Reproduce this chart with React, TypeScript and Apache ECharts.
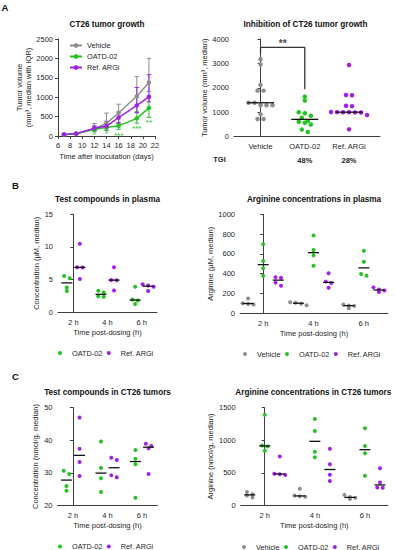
import React, { useEffect, useRef } from 'react';
import * as echarts from 'echarts';

const FONT = '"Liberation Sans", Arial, Helvetica, sans-serif';
const GRAY = '#8e8e8e';
const GREEN = '#22c322';
const PURPLE = '#a21fe5';
const AXIS = '#3c3c3c';
const TEXT = '#1e1e1e';

// ---------- Panel A (left): CT26 tumor growth, median with IQR ----------
const days = [7, 9, 12, 14, 16, 19, 21];
const vehicleMedian = [40, 65, 190, 330, 600, 1025, 1380];
const vehicleQ1 = [25, 45, 130, 220, 350, 620, 1150];
const vehicleQ3 = [55, 85, 320, 590, 820, 1530, 2000];
const oatdMedian = [35, 55, 170, 225, 260, 455, 725];
const oatdQ1 = [25, 40, 110, 140, 170, 330, 480];
const oatdQ3 = [45, 70, 240, 330, 330, 620, 1010];
const refMedian = [40, 60, 200, 255, 475, 790, 1010];
const refQ1 = [30, 45, 140, 180, 330, 600, 880];
const refQ3 = [55, 75, 260, 380, 620, 1250, 1580];
const oatdStars = ['', '', '*', '*', '***', '***', '**'];
const oatdStarLevel = [0, 0, 40, 60, 20, 200, 340];

// ---------- Panel A (right): final tumor volume ----------
const groupNames = ['Vehicle', 'OATD-02', 'Ref. ARGi'];
const finalVehicle = [3170, 2960, 2115, 1885, 1885, 1390, 1390, 1285, 1285, 1285, 915, 725, 725];
const finalOatd = [1640, 1480, 1000, 960, 860, 780, 640, 610, 570, 500, 290, 190];
const finalRef = [2935, 1710, 1695, 1270, 1250, 1010, 1005, 1000, 1000, 995, 990, 890, 300];
const tgiLabels = ['', '48%', '28%'];
const sigBracket = { from: 0, to: 1, top: 3660, fromEnd: 3410, toEnd: 1940, label: '**', labelLevel: 3800 };

// ---------- Panel B ----------
const timeLabels = ['2 h', '4 h', '6 h'];
const plasmaCmpdOatd = [[5.55, 5.2, 3.8, 3.25], [3.3, 3.05, 2.45, 2.38], [3.9, 1.95, 1.8, 1.27]];
const plasmaCmpdRef = [[10.5, 6.9, 6.85, 5.1], [6.9, 4.95, 4.9, 3.35], [4.3, 4.1, 3.9, 3.25]];
const plasmaArgVehicle = [[150, 102, 95, 88], [112, 106, 97, 82], [88, 78, 75, 52]];
const plasmaArgOatd = [[697, 528, 455, 380], [785, 640, 585, 480], [632, 521, 397, 380]];
const plasmaArgRef = [[365, 360, 310, 278], [405, 320, 305, 258], [262, 240, 230, 215]];

// ---------- Panel C ----------
const tumorCmpdOatd = [[30.6, 29.6, 25.9, 24.5], [39.6, 31.5, 28.3, 24.1], [37.0, 34.3, 32.6, 22.3]];
const tumorCmpdRef = [[47.0, 37.4, 33.3, 29.0], [34.6, 33.9, 29.2, 28.6], [38.9, 38.2, 37.5, 29.6]];
const tumorArgVehicle = [[205, 170, 150, 120], [255, 150, 138, 130], [160, 128, 115, 95]];
const tumorArgOatd = [[1390, 920, 905, 840], [1326, 1142, 824, 737], [1183, 911, 799, 455]];
const tumorArgRef = [[750, 485, 478, 465], [870, 630, 470, 375], [568, 350, 275, 270]];

// ---------- layout ----------
type Box = { left: number; top: number; width: number; height: number };
const gAL: Box = { left: 58, top: 39, width: 97, height: 97 };
const gAR: Box = { left: 234, top: 39, width: 146, height: 97.7 };
const gBL: Box = { left: 58, top: 214.3, width: 99, height: 98 };
const gBR: Box = { left: 240, top: 214.3, width: 148, height: 99 };
const gCL: Box = { left: 57.5, top: 407.7, width: 100, height: 97.6 };
const gCR: Box = { left: 240.7, top: 407.7, width: 147.3, height: 97.6 };

const xrAR = [-0.6, 2.7];
const xrBL = [-0.45, 2.45];
const xrBR = [-0.46, 2.48];
const xrCL = [-0.45, 2.45];
const xrCR = [-0.48, 2.46];
const yrAR = [0, 4000];
const yrBL = [0, 15];
const yrBR = [0, 1000];
const yrCL = [20, 50];
const yrCR = [0, 1500];

function median(v: number[]) {
  const s = [...v].sort((a, b) => a - b);
  const n = s.length;
  return n % 2 ? s[(n - 1) / 2] : (s[n / 2 - 1] + s[n / 2]) / 2;
}

function swarm(values: number[], center: number, g: Box, xr: number[], yr: number[], spacingPx: number, rowPx = 3.5) {
  const yPx = g.height / (yr[1] - yr[0]);
  const xUnit = (xr[1] - xr[0]) / g.width;
  const sorted = [...values].sort((a, b) => b - a);
  const rows: number[][] = [];
  let cur: number[] = [];
  for (const v of sorted) {
    if (cur.length && (cur[0] - v) * yPx > rowPx) {
      rows.push(cur);
      cur = [];
    }
    cur.push(v);
  }
  if (cur.length) rows.push(cur);
  const out: number[][] = [];
  rows.forEach((r) => r.forEach((v, i) => out.push([center + (i - (r.length - 1) / 2) * spacingPx * xUnit, v])));
  return out;
}

function dotSeries(name: string, color: string, idx: number, groups: number[][], offset: number, g: Box, xr: number[], yr: number[], size: number, spacing: number) {
  const data = groups.flatMap((vals, t) => swarm(vals, t + offset, g, xr, yr, spacing));
  return { type: 'scatter', name, xAxisIndex: idx, yAxisIndex: idx, data, symbolSize: size, itemStyle: { color, opacity: 1 }, z: 3, silent: true };
}

function medianSeries(idx: number, groups: number[][], offset: number, halfPx: number) {
  return {
    type: 'custom',
    name: '_median',
    xAxisIndex: idx,
    yAxisIndex: idx,
    z: 4,
    silent: true,
    data: groups.map((vals, t) => [t + offset, median(vals)]),
    encode: { x: 0, y: 1 },
    renderItem: (_p: any, api: any) => {
      const c = api.coord([api.value(0), api.value(1)]);
      return {
        type: 'line',
        shape: { x1: c[0] - halfPx, y1: c[1], x2: c[0] + halfPx, y2: c[1] },
        style: { stroke: '#111', lineWidth: 1.3 },
      };
    },
  };
}

function errorBars(color: string, lo: number[], hi: number[]) {
  return {
    type: 'custom',
    name: '_err',
    xAxisIndex: 0,
    yAxisIndex: 0,
    z: 2,
    silent: true,
    data: days.map((d, i) => [d, lo[i], hi[i]]),
    encode: { x: 0, y: [1, 2] },
    renderItem: (_p: any, api: any) => {
      const a = api.coord([api.value(0), api.value(1)]);
      const b = api.coord([api.value(0), api.value(2)]);
      const st = { stroke: color, lineWidth: 1 };
      return {
        type: 'group',
        children: [
          { type: 'line', shape: { x1: a[0], y1: a[1], x2: b[0], y2: b[1] }, style: st },
          { type: 'line', shape: { x1: a[0] - 2.2, y1: a[1], x2: a[0] + 2.2, y2: a[1] }, style: st },
          { type: 'line', shape: { x1: b[0] - 2.2, y1: b[1], x2: b[0] + 2.2, y2: b[1] }, style: st },
        ],
      };
    },
  };
}

const txt = { fontSize: 7.5, color: TEXT, fontFamily: FONT };

function yAx(idx: number, yr: number[], interval: number, name: string, nameGap: number) {
  return {
    type: 'value',
    gridIndex: idx,
    min: yr[0],
    max: yr[1],
    interval,
    name,
    nameLocation: 'middle',
    nameGap,
    nameTextStyle: { ...txt, lineHeight: 8.6 },
    axisLine: { show: true, lineStyle: { color: AXIS, width: 1 } },
    axisTick: { show: true, length: 3, lineStyle: { color: AXIS } },
    axisLabel: { ...txt, margin: 5, formatter: (v: number) => String(v) },
    splitLine: { show: false },
  };
}

function catXAx(idx: number, xr: number[], labels: string[], name: string) {
  return {
    type: 'value',
    gridIndex: idx,
    min: xr[0],
    max: xr[1],
    name,
    nameLocation: 'middle',
    nameGap: 16.5,
    nameTextStyle: txt,
    axisLine: { show: true, lineStyle: { color: AXIS, width: 1 } },
    axisTick: { show: false },
    axisLabel: { ...txt, margin: 6, customValues: [0, 1, 2], formatter: (v: number) => labels[Math.round(v)] ?? '' },
    splitLine: { show: false },
  };
}

function legendAt(left: number, top: number, names: string[], colors: string[]) {
  return {
    orient: 'horizontal',
    left,
    top,
    itemWidth: 14,
    itemHeight: 4,
    itemGap: 4.5,
    selectedMode: false,
    textStyle: { fontSize: 7.3, color: TEXT, fontFamily: FONT, padding: [0, 0, 0, 0] },
    data: names.map((n, i) => ({ name: n, icon: 'circle', itemStyle: { color: colors[i] } })),
  };
}

function titleText(s: string, x: number, y: number) {
  return {
    type: 'text',
    x,
    y,
    style: { text: s, fontSize: 8.2, fontWeight: 'bold', fill: '#111', fontFamily: FONT, textAlign: 'center', textVerticalAlign: 'middle' },
  };
}

function letter(s: string, x: number, y: number) {
  return {
    type: 'text',
    x,
    y,
    style: { text: s, fontSize: 9.5, fontWeight: 'bold', fill: '#111', fontFamily: FONT, textAlign: 'center', textVerticalAlign: 'middle' },
  };
}

export default function App() {
  const ref = useRef<HTMLDivElement>(null);
  useEffect(() => {
    if (!ref.current) return;
    const chart = echarts.init(ref.current, undefined, { renderer: 'svg' });
    const lineSeries = (name: string, color: string, med: number[]) => ({
      type: 'line',
      name,
      xAxisIndex: 0,
      yAxisIndex: 0,
      data: days.map((d, i) => [d, med[i]]),
      symbol: 'circle',
      symbolSize: 4.5,
      lineStyle: { color, width: 1.5 },
      itemStyle: { color },
      z: 3,
      silent: true,
    });
    const option: any = {
      animation: false,
      textStyle: { fontFamily: FONT },
      grid: [gAL, gAR, gBL, gBR, gCL, gCR].map((g) => ({ ...g, containLabel: false })),
      xAxis: [
        {
          type: 'value',
          gridIndex: 0,
          min: 6,
          max: 22,
          interval: 2,
          name: 'Time after inoculation (days)',
          nameLocation: 'middle',
          nameGap: 16.5,
          nameTextStyle: txt,
          axisLine: { show: true, lineStyle: { color: AXIS, width: 1 } },
          axisTick: { show: true, length: 3, lineStyle: { color: AXIS } },
          axisLabel: { ...txt, margin: 5 },
          splitLine: { show: false },
        },
        catXAx(1, xrAR, groupNames, ''),
        catXAx(2, xrBL, timeLabels, 'Time post-dosing (h)'),
        catXAx(3, xrBR, timeLabels, 'Time post-dosing (h)'),
        catXAx(4, xrCL, timeLabels, 'Time post-dosing (h)'),
        catXAx(5, xrCR, timeLabels, 'Time post-dosing (h)'),
        {
          type: 'value',
          gridIndex: 1,
          position: 'bottom',
          offset: 13.3,
          min: xrAR[0],
          max: xrAR[1],
          axisLine: { show: false },
          axisTick: { show: false },
          axisLabel: { ...txt, fontWeight: 'bold', margin: 6, customValues: [0, 1, 2], formatter: (v: number) => tgiLabels[Math.round(v)] ?? '' },
          splitLine: { show: false },
        },
      ],
      yAxis: [
        yAx(0, [0, 2500], 500, 'Tumor volume\n(mm³, median with IQR)', 21),
        yAx(1, yrAR, 1000, 'Tumor volume (mm³, median)', 24),
        yAx(2, yrBL, 5, 'Concentration (µM, median)', 15),
        yAx(3, yrBR, 200, 'Arginine (µM, median)', 24),
        yAx(4, yrCL, 10, 'Concentration (nmol/g, median)', 14),
        yAx(5, yrCR, 500, 'Arginine (nmol/g, median)', 25),
      ],
      legend: [
        {
          orient: 'vertical',
          left: 64,
          top: 37,
          itemWidth: 12,
          itemHeight: 6,
          itemGap: 4,
          selectedMode: false,
          textStyle: { fontSize: 7.3, color: TEXT, fontFamily: FONT },
          data: ['Vehicle', 'OATD-02', 'Ref. ARGi'],
        },
        legendAt(53, 344.5, ['OATD-02', 'Ref. ARGi'], [GREEN, PURPLE]),
        legendAt(238, 345.5, ['Vehicle', 'OATD-02', 'Ref. ARGi'], [GRAY, GREEN, PURPLE]),
        legendAt(53, 538, ['OATD-02', 'Ref. ARGi'], [GREEN, PURPLE]),
        legendAt(237, 538.5, ['Vehicle', 'OATD-02', 'Ref. ARGi'], [GRAY, GREEN, PURPLE]),
      ],
      graphic: [
        letter('A', 5, 7),
        letter('B', 15.5, 185.5),
        letter('C', 15.5, 376.5),
        titleText('CT26 tumor growth', 107, 24),
        titleText('Inhibition of CT26 tumor growth', 305.5, 24),
        titleText('Test compounds in plasma', 107.5, 199.3),
        titleText('Arginine concentrations in plasma', 314, 199.3),
        titleText('Test compounds in CT26 tumors', 107.5, 392.7),
        titleText('Arginine concentrations in CT26 tumors', 313.3, 392.7),
        {
          type: 'text',
          x: 219.5,
          y: 159.3,
          style: { text: 'TGI', fontSize: 7.5, fontWeight: 'bold', fill: TEXT, fontFamily: FONT, textAlign: 'center', textVerticalAlign: 'middle' },
        },
      ],
      series: [
        // A left
        errorBars(GRAY, vehicleQ1, vehicleQ3),
        errorBars(GREEN, oatdQ1, oatdQ3),
        errorBars(PURPLE, refQ1, refQ3),
        lineSeries('Vehicle', GRAY, vehicleMedian),
        lineSeries('OATD-02', GREEN, oatdMedian),
        lineSeries('Ref. ARGi', PURPLE, refMedian),
        {
          type: 'scatter',
          name: '_stars',
          xAxisIndex: 0,
          yAxisIndex: 0,
          silent: true,
          symbolSize: 1,
          itemStyle: { color: 'rgba(0,0,0,0)' },
          data: days.map((d, i) => [d, oatdStarLevel[i], oatdStars[i]]).filter((p) => p[2] !== ''),
          label: {
            show: true,
            position: 'inside',
            formatter: (p: any) => p.data[2],
            color: GREEN,
            fontSize: 8,
            fontWeight: 'bold',
            fontFamily: FONT,
          },
          z: 6,
        },
        // A right
        dotSeries('Vehicle', GRAY, 1, [finalVehicle], 0, gAR, xrAR, yrAR, 4.5, 6),
        dotSeries('OATD-02', GREEN, 1, [finalOatd], 1, gAR, xrAR, yrAR, 4.5, 6),
        dotSeries('Ref. ARGi', PURPLE, 1, [finalRef], 2, gAR, xrAR, yrAR, 4.5, 6),
        medianSeries(1, [finalVehicle], 0, 13.5),
        medianSeries(1, [finalOatd], 1, 13.5),
        medianSeries(1, [finalRef], 2, 13.5),
        {
          type: 'line',
          name: '_bracket',
          xAxisIndex: 1,
          yAxisIndex: 1,
          silent: true,
          symbol: 'none',
          lineStyle: { color: '#333', width: 1.3 },
          data: [
            [sigBracket.from, sigBracket.fromEnd],
            [sigBracket.from, sigBracket.top],
            [sigBracket.to, sigBracket.top],
            [sigBracket.to, sigBracket.toEnd],
          ],
        },
        {
          type: 'scatter',
          name: '_sig',
          xAxisIndex: 1,
          yAxisIndex: 1,
          silent: true,
          symbolSize: 1,
          itemStyle: { color: 'rgba(0,0,0,0)' },
          data: [[(sigBracket.from + sigBracket.to) / 2, sigBracket.labelLevel]],
          label: { show: true, position: 'inside', formatter: sigBracket.label, color: '#111', fontSize: 10, fontWeight: 'bold', fontFamily: FONT },
          z: 6,
        },
        // B left
        dotSeries('OATD-02', GREEN, 2, plasmaCmpdOatd, -0.19, gBL, xrBL, yrBL, 4, 5.5),
        dotSeries('Ref. ARGi', PURPLE, 2, plasmaCmpdRef, 0.19, gBL, xrBL, yrBL, 4, 5.5),
        medianSeries(2, plasmaCmpdOatd, -0.19, 5.5),
        medianSeries(2, plasmaCmpdRef, 0.19, 5.5),
        // B right
        dotSeries('Vehicle', GRAY, 3, plasmaArgVehicle, -0.3, gBR, xrBR, yrBR, 4, 5.5),
        dotSeries('OATD-02', GREEN, 3, plasmaArgOatd, 0, gBR, xrBR, yrBR, 4, 5.5),
        dotSeries('Ref. ARGi', PURPLE, 3, plasmaArgRef, 0.3, gBR, xrBR, yrBR, 4, 5.5),
        medianSeries(3, plasmaArgVehicle, -0.3, 5.5),
        medianSeries(3, plasmaArgOatd, 0, 5.5),
        medianSeries(3, plasmaArgRef, 0.3, 5.5),
        // C left
        dotSeries('OATD-02', GREEN, 4, tumorCmpdOatd, -0.19, gCL, xrCL, yrCL, 4, 5.5),
        dotSeries('Ref. ARGi', PURPLE, 4, tumorCmpdRef, 0.19, gCL, xrCL, yrCL, 4, 5.5),
        medianSeries(4, tumorCmpdOatd, -0.19, 5.5),
        medianSeries(4, tumorCmpdRef, 0.19, 5.5),
        // C right
        dotSeries('Vehicle', GRAY, 5, tumorArgVehicle, -0.3, gCR, xrCR, yrCR, 4, 5.5),
        dotSeries('OATD-02', GREEN, 5, tumorArgOatd, 0, gCR, xrCR, yrCR, 4, 5.5),
        dotSeries('Ref. ARGi', PURPLE, 5, tumorArgRef, 0.3, gCR, xrCR, yrCR, 4, 5.5),
        medianSeries(5, tumorArgVehicle, -0.3, 5.5),
        medianSeries(5, tumorArgOatd, 0, 5.5),
        medianSeries(5, tumorArgRef, 0.3, 5.5),
      ],
    };
    chart.setOption(option);
    return () => chart.dispose();
  }, []);
  return <div ref={ref} style={{ position: 'absolute', left: 0, top: 0, width: 395, height: 550, background: '#fff' }} />;
}
